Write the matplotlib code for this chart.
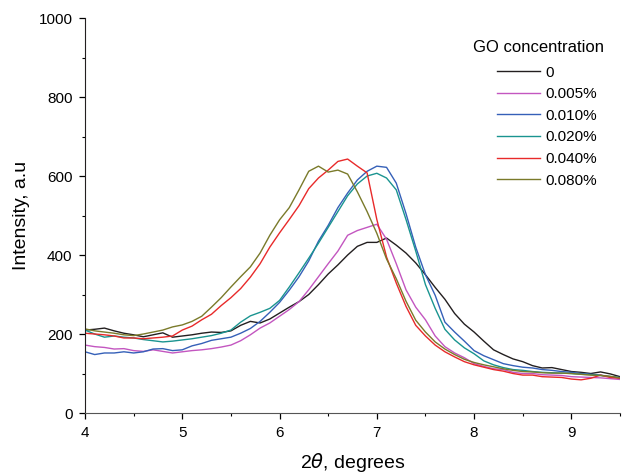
import matplotlib
matplotlib.use('Agg')
import matplotlib.pyplot as plt
from matplotlib.ticker import MultipleLocator

plt.rcParams['font.family'] = ['Liberation Sans', 'DejaVu Sans']
plt.rcParams['mathtext.fontset'] = 'dejavusans'

# 2-theta sample positions (degrees)
two_theta = [4.0, 4.1, 4.2, 4.3, 4.4, 4.5, 4.6, 4.7, 4.8, 4.9,
             5.0, 5.1, 5.2, 5.3, 5.4, 5.5, 5.6, 5.7, 5.8, 5.9,
             6.0, 6.1, 6.2, 6.3, 6.4, 6.5, 6.6, 6.7, 6.8, 6.9,
             7.0, 7.1, 7.2, 7.3, 7.4, 7.5, 7.6, 7.7, 7.8, 7.9,
             8.0, 8.1, 8.2, 8.3, 8.4, 8.5, 8.6, 8.7, 8.8, 8.9,
             9.0, 9.1, 9.2, 9.3, 9.4, 9.5]

# intensities, one list per GO concentration
go_0 = [210, 212, 215, 208, 202, 198, 193, 198, 203, 192,
        195, 198, 202, 205, 204, 208, 222, 232, 228, 238,
        253, 268, 282, 300, 325, 352, 375, 400, 422, 432,
        432, 443, 425, 405, 380, 350, 318, 288, 252, 225,
        205, 182, 160, 148, 137, 130, 120, 114, 115, 110,
        105, 103, 100, 104, 99, 92]
go_0005 = [172, 168, 166, 162, 163, 158, 156, 160, 156, 152,
           155, 158, 160, 163, 167, 172, 183, 198, 215, 228,
           245, 262, 282, 312, 345, 378, 410, 450, 462, 470,
           478, 440, 378, 312, 268, 236, 195, 168, 152, 140,
           125, 118, 112, 110, 103, 100, 100, 97, 96, 95,
           92, 91, 90, 89, 87, 85]
go_0010 = [155, 148, 152, 152, 155, 152, 155, 162, 163, 158,
           160, 170, 176, 184, 188, 192, 202, 214, 232, 255,
           280, 311, 345, 385, 435, 475, 520, 557, 590, 612,
           625, 622, 582, 505, 420, 350, 298, 230, 205, 182,
           158, 145, 135, 125, 120, 116, 114, 110, 108, 105,
           103, 100, 98, 96, 92, 90]
go_0020 = [210, 200, 192, 195, 192, 190, 186, 183, 180, 182,
           185, 188, 192, 196, 202, 210, 230, 246, 255, 265,
           285, 319, 355, 392, 430, 470, 510, 550, 580, 600,
           607, 595, 565, 490, 410, 325, 265, 212, 185, 165,
           150, 132, 122, 115, 110, 108, 105, 103, 102, 101,
           100, 98, 97, 95, 92, 89]
go_0040 = [202, 200, 198, 195, 190, 190, 188, 190, 192, 195,
           210, 220, 236, 250, 272, 292, 315, 344, 378, 420,
           456, 490, 525, 568, 595, 615, 637, 643, 625, 608,
           490, 395, 329, 270, 222, 195, 172, 155, 142, 130,
           122, 116, 110, 106, 100, 96, 96, 92, 91, 90,
           86, 84, 88, 96, 90, 88]
go_0080 = [213, 208, 205, 202, 198, 196, 200, 205, 210, 218,
           223, 232, 245, 268, 292, 319, 345, 370, 405, 450,
           489, 520, 565, 612, 625, 610, 615, 605, 560, 510,
           455, 390, 340, 283, 235, 205, 180, 162, 148, 136,
           128, 122, 117, 112, 108, 105, 104, 102, 101, 101,
           100, 98, 96, 95, 93, 89]

labels = ['0', '0.005%', '0.010%', '0.020%', '0.040%', '0.080%']
colors = ['#231f20', '#c356c0', '#3560b8', '#1a9490', '#e82a2a', '#7a7a2a']
series = [go_0, go_0005, go_0010, go_0020, go_0040, go_0080]

fig = plt.figure(figsize=(6.25, 4.75), dpi=100)
ax = fig.add_axes([0.136, 0.1305, 0.856, 0.8315])

for vals, lab, col in zip(series, labels, colors):
    ax.plot(two_theta, vals, color=col, linewidth=1.0, label=lab)

ax.set_xlim(4, 9.5)
ax.set_ylim(0, 1000)
ax.xaxis.set_major_locator(MultipleLocator(1))
ax.xaxis.set_minor_locator(MultipleLocator(0.5))
ax.yaxis.set_major_locator(MultipleLocator(200))
ax.yaxis.set_minor_locator(MultipleLocator(100))

ax.spines['top'].set_visible(False)
ax.spines['right'].set_visible(False)
ax.spines['left'].set_color('#231f20')
ax.spines['bottom'].set_color('#555555')
ax.tick_params(which='major', direction='out', length=4, width=0.9, labelsize=11, pad=5)
ax.tick_params(which='minor', direction='out', length=2.5, width=0.8)

ax.set_xlabel(r'2$\theta$, degrees', fontsize=14, labelpad=8)
ax.set_ylabel('Intensity, a.u', fontsize=14, labelpad=6)

# legend title drawn separately so the entries can sit right of its centre
fig.text(0.861, 0.901, 'GO concentration', ha='center', va='center', fontsize=12)
ax.legend(loc='upper left', frameon=False, fontsize=11, handlelength=2.85,
          handletextpad=0.3, labelspacing=0.5, borderpad=0, borderaxespad=0,
          bbox_to_anchor=(0.795, 0.862), bbox_transform=fig.transFigure)

fig.savefig('out.png', dpi=100)
